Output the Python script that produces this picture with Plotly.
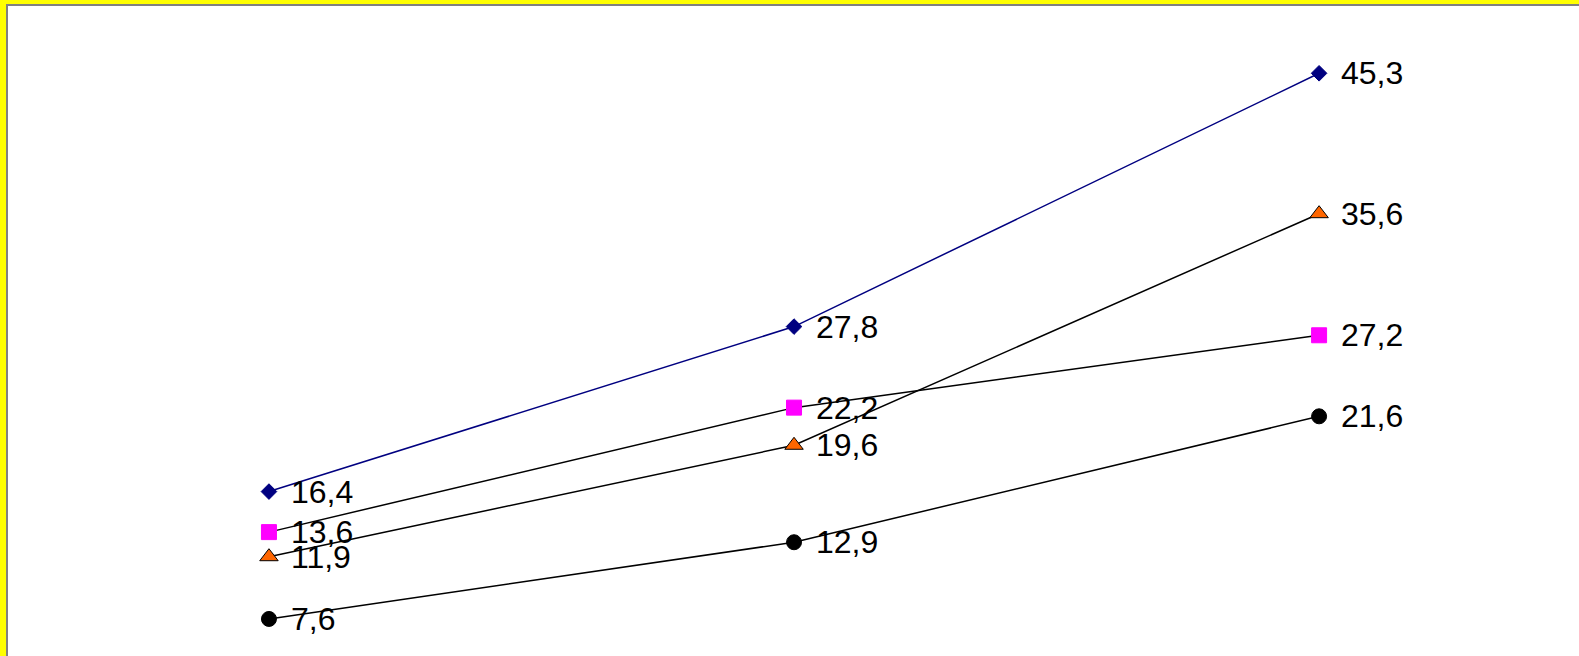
"""Line chart with four series and value labels, on a yellow frame."""

import plotly.graph_objects as go

categories = ["P1", "P2", "P3"]

series_diamond = [16.4, 27.8, 45.3]
series_square = [13.6, 22.2, 27.2]
series_triangle = [11.9, 19.6, 35.6]
series_circle = [7.6, 12.9, 21.6]

styles = [
    (series_diamond, "diamond", "#000080", "#000080", "#000080", 12),
    (series_square, "square", "#FF00FF", "#FF00FF", "#000000", 15),
    (series_triangle, "triangle-up", "#FF6600", "#000000", "#000000", 16),
    (series_circle, "circle", "#000000", "#000000", "#000000", 15),
]

fig = go.Figure()

for values, symbol, fill, outline, line_color, size in styles:
    fig.add_trace(go.Scatter(
        x=categories,
        y=values,
        mode="lines+markers",
        line=dict(color=line_color, width=1.5),
        marker=dict(symbol=symbol, size=size, color=fill,
                    line=dict(color=outline, width=1)),
        showlegend=False,
        hoverinfo="skip",
    ))
    # value labels to the right of each marker
    for cat, val in zip(categories, values):
        fig.add_annotation(
            x=cat, y=val,
            text=f"{val:.1f}".replace(".", ","),
            showarrow=False,
            xanchor="left", yanchor="middle",
            xshift=20, yshift=0,
            font=dict(family="Liberation Sans, Arial, sans-serif", size=32, color="black"),
        )

fig.update_layout(
    width=1579,
    height=656,
    margin=dict(l=8, r=0, t=6, b=0),
    paper_bgcolor="#FFFF00",
    plot_bgcolor="white",
)

fig.update_xaxes(
    type="category",
    range=[-0.497, 2.495],
    showgrid=False, zeroline=False, showticklabels=False, ticks="",
    side="top", showline=True, linecolor="#808080", linewidth=2,
)
fig.update_yaxes(
    range=[5.04, 49.95],
    showgrid=False, zeroline=False, showticklabels=False, ticks="",
    showline=True, linecolor="#808080", linewidth=2,
)

fig.write_html(
    "out.html",
    config={"displayModeBar": False},
    post_script="document.body.style.margin='0';document.body.style.overflow='hidden';",
)
